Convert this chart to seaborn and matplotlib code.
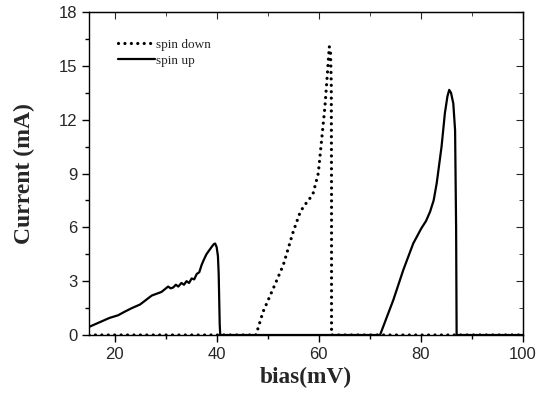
import matplotlib
matplotlib.use("Agg")
import matplotlib.pyplot as plt
from matplotlib.ticker import MultipleLocator
import seaborn as sns
import pandas as pd

# spin up (solid)
up_bias = [15, 17, 19, 20.7, 22, 23.4, 25, 27.3, 29.2, 30.5, 31.0, 31.5, 32.0, 32.5,
           33.1, 33.6, 34.1, 34.6, 35.1, 35.6, 36.1, 36.6, 37.05, 37.5, 38.0, 38.5,
           39.0, 39.4, 39.7, 40.0, 40.25, 40.4, 40.5, 40.6, 40.7, 72.0,
           74.6, 76.55, 78.5, 80.1, 81.0, 81.8, 82.5, 83.1, 84.05, 84.7, 85.2, 85.55, 85.9,
           86.35, 86.7, 86.9, 87.0, 100]
up_current = [0.45, 0.7, 0.95, 1.1, 1.3, 1.5, 1.7, 2.2, 2.4, 2.7, 2.6, 2.65, 2.8, 2.7,
              2.9, 2.8, 3.0, 2.9, 3.15, 3.1, 3.4, 3.5, 3.9, 4.2, 4.5, 4.7,
              4.9, 5.05, 5.1, 4.9, 4.4, 3.4, 2.0, 0.6, 0.0, 0.0,
              1.95, 3.62, 5.1, 5.95, 6.35, 6.87, 7.5, 8.46, 10.5, 12.36, 13.3, 13.66, 13.5,
              12.9, 11.4, 6.0, 0.0, 0.0]

# spin down (dotted)
down_bias = [15, 47.7, 49.1, 51.4, 53.05, 55.0, 56.3, 57.1, 58.0, 58.9, 59.9, 60.56,
             61.2, 61.7, 62.06, 62.3, 62.45, 62.5, 62.5, 100]
down_current = [0, 0, 1.3, 2.8, 3.9, 5.76, 6.8, 7.2, 7.5, 7.9, 9.0, 10.87,
                12.7, 14.6, 16.07, 15.8, 14.0, 8.0, 0.0, 0.0]

x_ticks = [20, 40, 60, 80, 100]
y_ticks = [0, 3, 6, 9, 12, 15, 18]

df_up = pd.DataFrame({"bias": up_bias, "current": up_current})
df_down = pd.DataFrame({"bias": down_bias, "current": down_current})

sns.set_style("ticks")
fig = plt.figure(figsize=(5.47, 3.94), dpi=100)
ax = fig.add_axes([89/547, 59/394, 434/547, 323/394])

sns.lineplot(data=df_down, x="bias", y="current", ax=ax, estimator=None, sort=False,
             color="black", linewidth=2.3, linestyle=(0, (0.01, 2.0)),
             dash_capstyle="round", label="spin down")
sns.lineplot(data=df_up, x="bias", y="current", ax=ax, estimator=None, sort=False,
             color="black", linewidth=1.6, label="spin up")

ax.set_xlim(15, 100)
ax.set_ylim(0, 18)
ax.set_xticks(x_ticks)
ax.set_yticks(y_ticks)
ax.xaxis.set_minor_locator(MultipleLocator(10))
ax.yaxis.set_minor_locator(MultipleLocator(1.5))
for s in ax.spines.values():
    s.set_visible(True)
    s.set_linewidth(1.0)
    s.set_color("black")

ax.tick_params(axis="both", which="major", labelsize=12, length=5, width=1, color="black",
               direction="out")
ax.tick_params(axis="both", which="minor", length=3, width=1, color="black", direction="out")
for lab in ax.get_xticklabels() + ax.get_yticklabels():
    lab.set_fontfamily("Liberation Sans")

axt = ax.secondary_xaxis("top")
axt.set_xticks(x_ticks)
axt.xaxis.set_minor_locator(MultipleLocator(10))
axt.tick_params(which="major", direction="in", length=5, labeltop=False)
axt.tick_params(which="minor", direction="in", length=3)
axr = ax.secondary_yaxis("right")
axr.set_yticks(y_ticks)
axr.yaxis.set_minor_locator(MultipleLocator(1.5))
axr.tick_params(which="major", direction="in", length=5, labelright=False)
axr.tick_params(which="minor", direction="in", length=3)

ax.set_xlabel("bias(mV)", fontfamily="Liberation Serif", fontweight="bold", fontsize=16.8, labelpad=4)
ax.set_ylabel("Current (mA)", fontfamily="Liberation Serif", fontweight="bold", fontsize=17, labelpad=17)

leg = ax.legend(loc="upper left", frameon=False, prop={"family": "Liberation Serif", "size": 9.5},
                handlelength=2.8, handletextpad=0.1, labelspacing=0.3,
                bbox_to_anchor=(0.04, 0.955))

fig.savefig("out.png", dpi=100)
